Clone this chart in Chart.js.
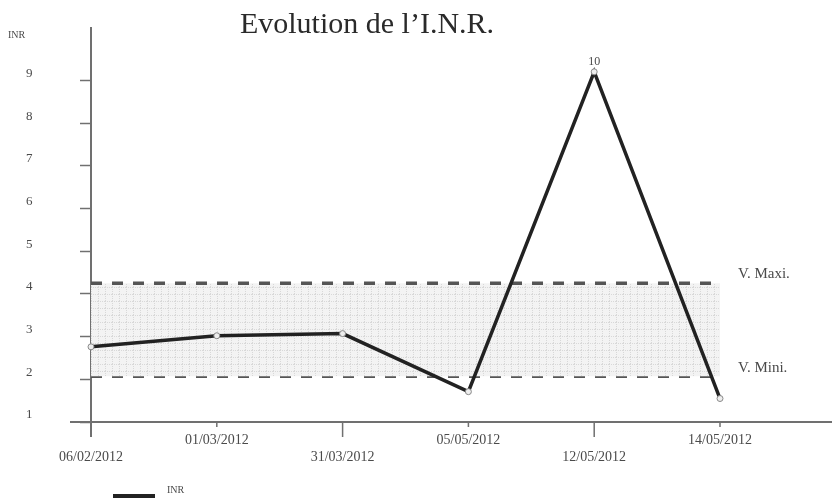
<!DOCTYPE html>
<html>
<head>
<meta charset="utf-8">
<script src="https://cdn.jsdelivr.net/npm/chart.js@4/dist/chart.umd.min.js"></script>
<style>
  html, body { margin: 0; padding: 0; background: #fff; }
  #wrap { width: 832px; height: 498px; }
</style>
</head>
<body>
<div id="wrap"><canvas id="inrChart"></canvas></div>
<script>
const DATES = ["06/02/2012", "01/03/2012", "31/03/2012", "05/05/2012", "12/05/2012", "14/05/2012"];
const INR_VALUES = [2.76, 3.02, 3.07, 1.71, 9.2, 1.55];
const POINT_LABELS = ["", "", "", "", "10", ""];
const V_MAXI = [4.25, 4.25, 4.25, 4.25, 4.25, 4.25];
const V_MINI = [2.07, 2.07, 2.07, 2.07, 2.07, 2.07];
const Y_TICKS = [1, 2, 3, 4, 5, 6, 7, 8, 9];

const SERIF = "'Liberation Serif', 'DejaVu Serif', serif";
const AXIS_COLOR = "#707070";
const TEXT_COLOR = "#4a4a4a";

// dotted grey texture between the two limits
function makePattern() {
    const c = document.createElement("canvas");
    c.width = 7; c.height = 7;
    const p = c.getContext("2d");
    p.fillStyle = "#f3f3f3";
    p.fillRect(0, 0, 7, 7);
    p.fillStyle = "#d8d8d8";
    for (let i = 0; i < 7; i += 2) {
        p.fillRect(i, 0, 1, 1);
        p.fillRect(0, i, 1, 1);
    }
    return p.createPattern(c, "repeat");
}

const decor = {
    id: "decor",
    beforeDatasetsDraw(chart) {
        const { ctx, scales: { x, y } } = chart;
        const x0 = x.getPixelForValue(0);
        const y0 = y.getPixelForValue(Y_TICKS[0]);
        ctx.save();
        ctx.strokeStyle = AXIS_COLOR;
        ctx.lineWidth = 2;
        ctx.beginPath();
        ctx.moveTo(x0, y.top);
        ctx.lineTo(x0, y0 + 15);
        ctx.moveTo(x0 - 21, y0);
        ctx.lineTo(chart.width, y0);
        ctx.stroke();
        ctx.lineWidth = 1.5;
        ctx.beginPath();
        DATES.forEach((d, i) => {
            if (i === 0) return;
            const px = x.getPixelForValue(i);
            ctx.moveTo(px, y0);
            ctx.lineTo(px, y0 + (i % 2 ? 5 : 15));
        });
        ctx.stroke();
        ctx.restore();
    },
    afterDraw(chart) {
        const { ctx, scales: { x, y } } = chart;
        ctx.save();
        ctx.fillStyle = "#2a2a2a";
        ctx.textBaseline = "middle";

        ctx.font = "30px " + SERIF;
        ctx.textAlign = "center";
        ctx.fillText("Evolution de l\u2019I.N.R.", 367, 25);

        ctx.fillStyle = TEXT_COLOR;
        ctx.font = "10px " + SERIF;
        ctx.textAlign = "left";
        ctx.fillText("INR", 8, 35);

        // limit labels
        const xr = x.getPixelForValue(DATES.length - 1) + 18;
        ctx.font = "15px " + SERIF;
        ctx.fillText("V. Maxi.", xr, y.getPixelForValue(V_MAXI[V_MAXI.length - 1]) - 9);
        ctx.fillText("V. Mini.", xr, y.getPixelForValue(V_MINI[V_MINI.length - 1]) - 8);

        // value labels
        ctx.textAlign = "center";
        ctx.font = "12px " + SERIF;
        POINT_LABELS.forEach((t, i) => {
            if (!t) return;
            ctx.fillText(t, x.getPixelForValue(i), y.getPixelForValue(INR_VALUES[i]) - 10);
        });

        // legend
        const ds = chart.data.datasets[0];
        ctx.fillStyle = ds.borderColor;
        ctx.fillRect(113, 494, 42, 6);
        ctx.fillStyle = TEXT_COLOR;
        ctx.textAlign = "left";
        ctx.font = "10px " + SERIF;
        ctx.fillText(ds.label, 167, 490);
        ctx.restore();
    },
};

const bandStyle = {
    borderColor: "#555",
    borderWidth: 3.5,
    borderDash: [11, 10],
    pointRadius: 0,
    tension: 0,
    order: 1,
};

new Chart(document.getElementById("inrChart"), {
    type: "line",
    data: {
        labels: DATES,
        datasets: [
            {
                label: "INR",
                data: INR_VALUES,
                borderColor: "#222",
                borderWidth: 3.5,
                tension: 0,
                pointRadius: 3,
                pointBackgroundColor: "#eee",
                pointBorderColor: "#888",
                pointBorderWidth: 1,
                fill: false,
                clip: false,
                order: 0,
            },
            Object.assign({ label: "V. Maxi.", data: V_MAXI, fill: "+1", backgroundColor: makePattern() }, bandStyle),
            Object.assign({ label: "V. Mini.", data: V_MINI, fill: false }, bandStyle),
        ],
    },
    plugins: [decor],
    options: {
        responsive: true,
        maintainAspectRatio: false,
        animation: false,
        layout: { padding: { left: 26, right: 112, top: 27, bottom: 0 } },
        plugins: {
            legend: { display: false },
            title: { display: false },
            tooltip: { enabled: false },
        },
        scales: {
            x: {
                type: "category",
                offset: false,
                border: { display: false },
                grid: { display: false, drawTicks: false },
                ticks: {
                    color: TEXT_COLOR,
                    font: { family: SERIF, size: 14 },
                    padding: 10,
                    maxRotation: 0,
                    autoSkip: false,
                    callback: (v, i) => (i % 2 ? DATES[i] : ["", DATES[i]]),
                },
                afterFit: s => { s.height = 76; },
            },
            y: {
                min: 1,
                max: 10.25,
                border: { display: false },
                grid: { drawOnChartArea: false, drawTicks: true, tickLength: 11, tickColor: AXIS_COLOR, tickWidth: 1.5 },
                ticks: {
                    color: TEXT_COLOR,
                    font: { family: SERIF, size: 13 },
                    padding: 2,
                    crossAlign: "far",
                    labelOffset: -7,
                },
                afterBuildTicks: s => { s.ticks = Y_TICKS.map(v => ({ value: v })); },
                afterFit: s => { s.width = 65; },
            },
        },
    },
});
</script>
</body>
</html>
